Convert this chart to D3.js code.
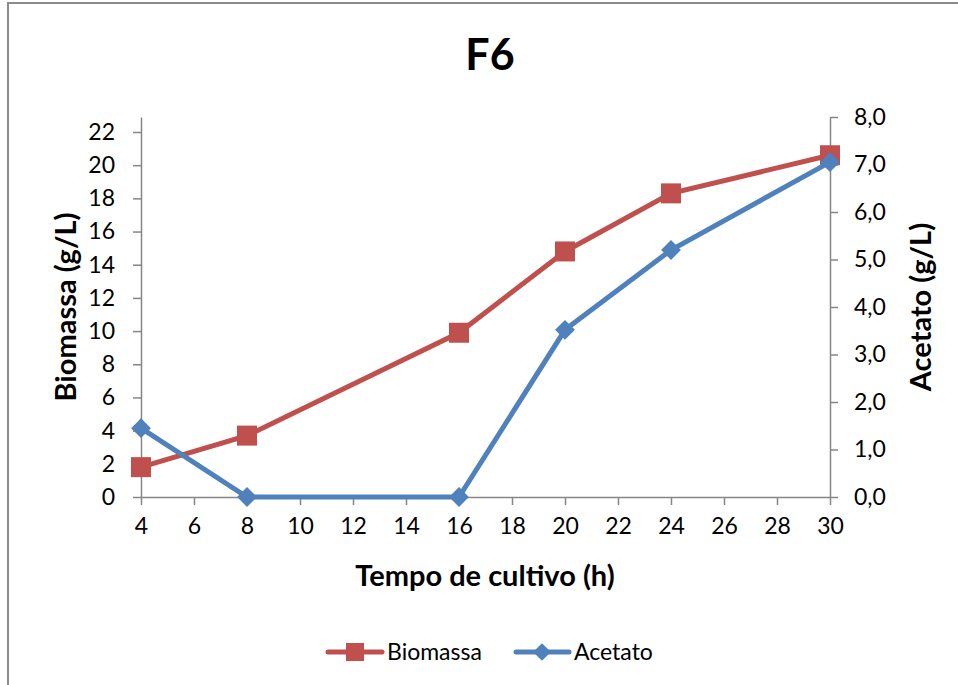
<!DOCTYPE html>
<html lang="pt">
<head>
<meta charset="utf-8">
<title>F6</title>
<script src="https://d3js.org/d3.v7.min.js"></script>
<style>
  body { margin: 0; background: #fff; }
  svg { font-family: Lato, "Open Sans", sans-serif; }
  .axis text { font-family: Lato, "Open Sans", sans-serif; font-size: 23px; fill: #000; }
  .axis path, .axis line { stroke: #868686; stroke-width: 1.5px; }
  .label { font-size: 29px; font-weight: bold; }
  .legend text { font-size: 23px; }
</style>
</head>
<body>
<svg width="958" height="685"></svg>
<script>
// data
var tempo = [4, 8, 16, 20, 24, 30];
var biomassa = [1.8, 3.7, 9.9, 14.8, 18.3, 20.6];
var acetato = [1.45, 0, 0, 3.52, 5.2, 7.05];
var xTicks = [4, 6, 8, 10, 12, 14, 16, 18, 20, 22, 24, 26, 28, 30];
var leftTicks = [0, 2, 4, 6, 8, 10, 12, 14, 16, 18, 20, 22];
var rightTicks = [0, 1, 2, 3, 4, 5, 6, 7, 8];

var red = "#C0504D", blue = "#4F81BD";

var svg = d3.select('svg');

// chart area border (runs off the right and bottom edge)
svg.append("rect")
  .attr("x", 8).attr("y", 3)
  .attr("width", 1000).attr("height", 1000)
  .attr("fill", "none").attr("stroke", "#8c8c8c").attr("stroke-width", 2);

var x = d3.scaleLinear().domain([4, 30]).range([141, 830]);
var yR = d3.scaleLinear().domain([0, 8]).range([497, 117]);
// left axis: 22 sits at y=132, plot top at 117
var yL = d3.scaleLinear().domain([0, 22 * 380 / 365]).range([497, 117]);

svg.append('g')
  .attr("class", "axis")
  .attr("transform", "translate(0,497)")
  .call(d3.axisBottom(x).tickValues(xTicks).tickSize(8).tickSizeOuter(0).tickPadding(13));

svg.append('g')
  .attr("class", "axis")
  .attr("transform", "translate(141,0)")
  .call(d3.axisLeft(yL).tickValues(leftTicks).tickSize(8).tickSizeOuter(0).tickPadding(18));

svg.append('g')
  .attr("class", "axis")
  .attr("transform", "translate(830,0)")
  .call(d3.axisRight(yR).tickValues(rightTicks).tickSize(8).tickSizeOuter(0).tickPadding(16)
    .tickFormat(function(d) { return d3.format(".1f")(d).replace(".", ","); }));

svg.selectAll(".axis").attr("font-family", null).attr("font-size", null);

// series
var lineB = d3.line().x(function(d, i) { return x(tempo[i]); }).y(function(d) { return yL(d); });
var lineA = d3.line().x(function(d, i) { return x(tempo[i]); }).y(function(d) { return yR(d); });

svg.append("path").datum(biomassa)
  .attr("d", lineB).attr("fill", "none").attr("stroke", red).attr("stroke-width", 5);

svg.append("g").selectAll("rect")
  .data(biomassa).enter().append("rect")
    .attr("x", function(d, i) { return x(tempo[i]) - 10; })
    .attr("y", function(d) { return yL(d) - 10; })
    .attr("width", 20).attr("height", 20)
    .attr("fill", red);

svg.append("path").datum(acetato)
  .attr("d", lineA).attr("fill", "none").attr("stroke", blue).attr("stroke-width", 5);

var diamond = d3.symbol().type(d3.symbolDiamond2).size(250);
svg.append("g").selectAll("path")
  .data(acetato).enter().append("path")
    .attr("d", diamond)
    .attr("transform", function(d, i) { return "translate(" + x(tempo[i]) + "," + yR(d) + ")"; })
    .attr("fill", blue);

// titles
svg.append("text")
  .attr("x", 490).attr("y", 70)
  .attr("text-anchor", "middle")
  .style("font-size", "43px").style("font-weight", "bold")
  .text("F6");

svg.append("text")
  .attr("class", "label")
  .attr("x", 485).attr("y", 586)
  .attr("text-anchor", "middle")
  .text("Tempo de cultivo (h)");

svg.append("text")
  .attr("class", "label")
  .attr("transform", "translate(76,307) rotate(-90)")
  .attr("text-anchor", "middle")
  .text("Biomassa (g/L)");

svg.append("text")
  .attr("class", "label")
  .attr("transform", "translate(931,307) rotate(-90)")
  .attr("text-anchor", "middle")
  .text("Acetato (g/L)");

// legend
var legend = svg.append("g").attr("class", "legend");
legend.append("line")
  .attr("x1", 328).attr("x2", 382).attr("y1", 652).attr("y2", 652)
  .attr("stroke", red).attr("stroke-width", 5).attr("stroke-linecap", "round");
legend.append("rect")
  .attr("x", 346).attr("y", 643).attr("width", 18).attr("height", 18).attr("fill", red);
legend.append("text").attr("x", 387).attr("y", 660).text("Biomassa");

legend.append("line")
  .attr("x1", 516).attr("x2", 569).attr("y1", 652).attr("y2", 652)
  .attr("stroke", blue).attr("stroke-width", 5).attr("stroke-linecap", "round");
legend.append("path")
  .attr("d", d3.symbol().type(d3.symbolDiamond2).size(200))
  .attr("transform", "translate(542,652)").attr("fill", blue);
legend.append("text").attr("x", 574).attr("y", 660).text("Acetato");
</script>
</body>
</html>
